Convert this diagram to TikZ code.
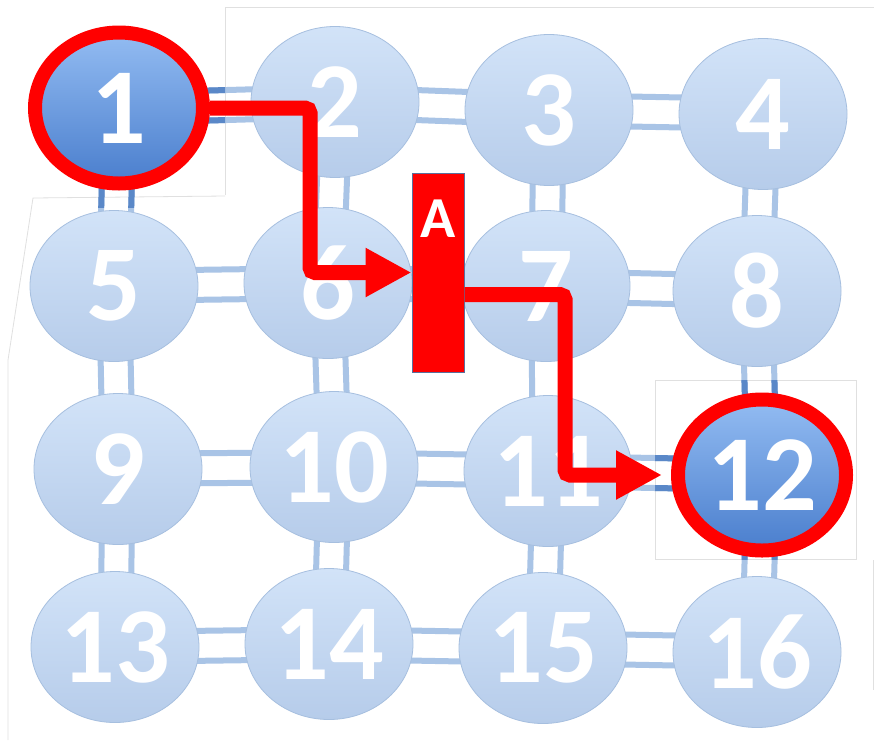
\documentclass[tikz,border=0pt]{standalone}
\usepackage{fontspec}
\setmainfont{Carlito}
\usetikzlibrary{shapes.geometric,arrows.meta,calc}
\definecolor{ndtop}{HTML}{D2E3F8}
\definecolor{ndbot}{HTML}{B6CCEA}
\definecolor{ndborder}{HTML}{A6BFDF}
\definecolor{hitop}{HTML}{93BCF2}
\definecolor{hibot}{HTML}{4A7ECD}
\definecolor{linkc}{HTML}{A9C4E6}
\definecolor{linkdark}{HTML}{5A88C8}
\definecolor{pathred}{HTML}{FF0000}
\definecolor{edgegray}{HTML}{E0E0E0}
\definecolor{boxborder}{HTML}{5B6F9C}
\newcommand\hdouble[3][link]{%
  \draw[#1] ([yshift=15pt]#2.center) -- ([yshift=15pt]#3.center);
  \draw[#1] ([yshift=-15pt]#2.center) -- ([yshift=-15pt]#3.center);}
\newcommand\vdouble[3][link]{%
  \draw[#1] ([xshift=15pt]#2.center) -- ([xshift=15pt]#3.center);
  \draw[#1] ([xshift=-15pt]#2.center) -- ([xshift=-15pt]#3.center);}
\begin{document}
\begin{tikzpicture}[x=1pt,y=-1pt,
  nd/.style={ellipse, minimum width=168pt, minimum height=151pt, inner sep=0pt,
    draw=ndborder, line width=0.8pt, top color=ndtop, bottom color=ndbot,
    text=white, font=\fontsize{108}{108}\selectfont\bfseries},
  hi/.style={nd, draw=pathred, line width=14pt, top color=hitop, bottom color=hibot},
  link/.style={draw=linkc, line width=6pt},
  darklink/.style={draw=linkdark, line width=6pt},
  faint/.style={draw=edgegray, line width=0.8pt},
  redpath/.style={draw=pathred, line width=15pt, rounded corners=5pt,
    -{Triangle[length=46pt,width=46pt]}}]
\useasboundingbox (0,0) rectangle (874,740);
\fill[white] (0,0) rectangle (874,740);
% faint screenshot edges
\draw[faint] (225,195) -- (225,7) -- (874,7);
\draw[faint] (225,196) -- (33,198) -- (8,360) -- (8,740);
\draw[faint] (655,380) rectangle (856,559);
\draw[faint] (873,560) -- (873,690);
% node positions
\coordinate (p1) at (119,108);  \coordinate (p2) at (335,102);
\coordinate (p3) at (549,110);  \coordinate (p4) at (763,114);
\coordinate (p5) at (114,286);  \coordinate (p6) at (328,283);
\coordinate (p7) at (546,286);  \coordinate (p8) at (757,291);
\coordinate (p9) at (118,469);  \coordinate (p10) at (334,467);
\coordinate (p11) at (548,471); \coordinate (p12) at (762,475);
\coordinate (p13) at (115,647); \coordinate (p14) at (329,644);
\coordinate (p15) at (543,648); \coordinate (p16) at (757,652);
% links
\hdouble{p1}{p2}\hdouble{p2}{p3}\hdouble{p3}{p4}
\hdouble{p5}{p6}\hdouble{p6}{p7}\hdouble{p7}{p8}
\hdouble{p9}{p10}\hdouble{p10}{p11}\hdouble{p11}{p12}
\hdouble{p13}{p14}\hdouble{p14}{p15}\hdouble{p15}{p16}
\vdouble{p1}{p5}\vdouble{p5}{p9}\vdouble{p9}{p13}
\vdouble{p2}{p6}\vdouble{p6}{p10}\vdouble{p10}{p14}
\vdouble{p3}{p7}\vdouble{p7}{p11}\vdouble{p11}{p15}
\vdouble{p4}{p8}\vdouble{p8}{p12}\vdouble{p12}{p16}
% darker link parts inside the pasted regions
\begin{scope}
  \clip (0,0) rectangle (225,207);
  \hdouble[darklink]{p1}{p2}\vdouble[darklink]{p1}{p5}
\end{scope}
\begin{scope}
  \clip (655,380) rectangle (856,559);
  \hdouble[darklink]{p11}{p12}\vdouble[darklink]{p8}{p12}\vdouble[darklink]{p12}{p16}
\end{scope}
% nodes
\node[hi] (n1) at (p1) {1};
\node[nd] (n2) at (p2) {2};
\node[nd] (n3) at (p3) {3};
\node[nd] (n4) at (p4) {4};
\node[nd] (n5) at (p5) {5};
\node[nd] (n6) at (p6) {6};
\node[nd] (n7) at (p7) {7};
\node[nd] (n8) at (p8) {8};
\node[nd] (n9) at (p9) {9};
\node[nd] (n10) at (p10) {10};
\node[nd] (n11) at (p11) {11};
\node[hi] (n12) at (p12) {12};
\node[nd] (n13) at (p13) {13};
\node[nd] (n14) at (p14) {14};
\node[nd] (n15) at (p15) {15};
\node[nd] (n16) at (p16) {16};
% box A
\node[draw=boxborder, line width=1pt, fill=pathred, minimum width=52pt,
  minimum height=199pt, inner sep=0pt] (A) at (438,272.5) {};
\node[text=white, font=\fontsize{58}{58}\selectfont\bfseries, inner sep=0pt]
  (Atext) at (438,219) {A};
% red route
\coordinate (k1) at (310,0);
\coordinate (k2) at (565,0);
\draw[redpath] (n1.east) -| (k1 |- A.west) -- (A.west);
\draw[redpath, shorten >=9pt] ([yshift=-22pt]A.east) -| (k2 |- n12.west) -- (n12.west);
\end{tikzpicture}
\end{document}
